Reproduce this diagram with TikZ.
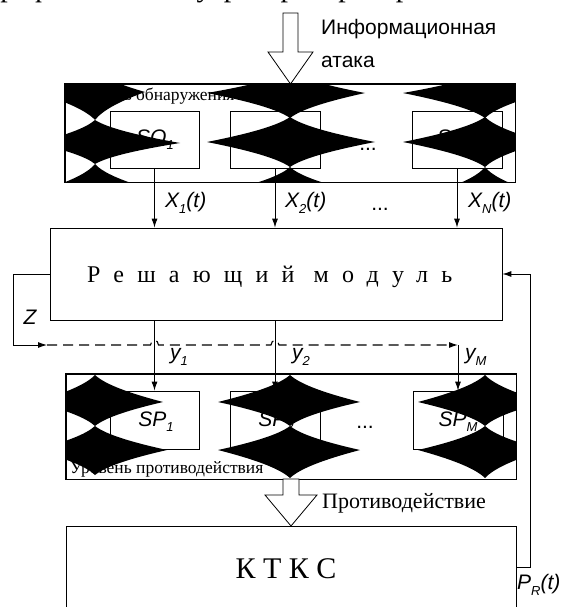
\documentclass[tikz,border=0pt]{standalone}
\usepackage{fontspec}
\setmainfont{Liberation Serif}
\setsansfont{Liberation Sans}
\usetikzlibrary{arrows.meta}

% black four-pointed blob: cx cy aL aR bT bB
\newcommand\bstar[6]{%
  \fill (#1-#3,#2) .. controls (#1-0.5*#3,#2-0.33*#5) and (#1-0.15*#3,#2-0.65*#5) .. (#1,#2-#5)
  .. controls (#1+0.15*#4,#2-0.65*#5) and (#1+0.5*#4,#2-0.33*#5) .. (#1+#4,#2)
  .. controls (#1+0.5*#4,#2+0.33*#6) and (#1+0.15*#4,#2+0.65*#6) .. (#1,#2+#6)
  .. controls (#1-0.15*#3,#2+0.65*#6) and (#1-0.5*#3,#2+0.33*#6) .. (#1-#3,#2) -- cycle;}
\newcommand\sbs[1]{\raisebox{-0.25em}{\fontsize{13}{13}\selectfont #1}}

\tikzset{
  box/.style={draw, line width=0.8pt, rectangle, inner sep=0pt, fill=white},
  arr/.style={-{Latex[length=9pt,width=6pt]}, line width=0.9pt},
  lab/.style={font=\sffamily\itshape\fontsize{21}{21}\selectfont, inner sep=0pt},
  dotsl/.style={font=\sffamily\fontsize{21}{21}\selectfont, inner sep=0pt},
  ser/.style={font=\fontsize{17.5}{17.5}\selectfont, inner sep=0pt},
  hollow/.style={draw, line width=0.8pt, fill=white},
}

\begin{document}
\begin{tikzpicture}[x=1pt,y=-1pt]
\useasboundingbox (0,0) rectangle (572,607);
\clip (0,0) rectangle (572,607);

% cut-off line of text at the top
\node[anchor=base west, inner sep=0pt, font=\fontsize{30}{30}\selectfont] (cut) at (-12,-3) {графии\quad сети\quad угроз\ \ распространения};

% top hollow arrow
\draw[hollow] (283,13) -- (298,13) -- (298,52) -- (313,52) -- (290.5,84) -- (268,52) -- (283,52) -- cycle;
\node[anchor=base west, inner sep=0pt, font=\sffamily\fontsize{21}{21}\selectfont] (ia1) at (321,35) {Информационная};
\node[anchor=base west, inner sep=0pt, font=\sffamily\fontsize{21}{21}\selectfont] (ia2) at (321,68) {атака};

% detection level
\node[box, minimum width=450pt, minimum height=98pt] (obn) at (290,133) {};
\node[ser, anchor=base west] (obnt) at (70,101) {Уровень обнаружения};
\node[box, minimum width=89pt, minimum height=57pt] (so1) at (154.5,139.5) {};
\node[box, minimum width=90pt, minimum height=57pt] (so2) at (275,139.5) {};
\node[box, minimum width=90pt, minimum height=57pt] (son) at (457,139.5) {};
\node[lab] (lso1) at (155,140) {SO\sbs{1}};
\node[lab] (lso2) at (275,140) {SO\sbs{2}};
\node[lab] (lson) at (457,140) {SO\sbs{N}};
\node[dotsl, anchor=base] (dots1) at (368,150) {...};
\begin{scope}
\clip (obn.north west) rectangle (obn.south east);
\bstar{95}{92}{60}{50}{22}{28}
\bstar{95}{143}{60}{85}{23}{21}
\bstar{95}{186}{40}{45}{22}{20}
\bstar{290}{93}{83}{75}{22}{25}
\bstar{290}{142}{83}{85}{25}{25}
\bstar{290}{189}{55}{55}{22}{20}
\bstar{485}{93}{82}{60}{22}{25}
\bstar{485}{142}{82}{60}{25}{25}
\bstar{485}{189}{40}{40}{22}{20}
\end{scope}
\draw[line width=0.8pt] (obn.north west) rectangle (obn.south east);

% decision module
\node[box, minimum width=452pt, minimum height=92pt] (mod) at (276,274) {};
\node[anchor=base west, inner sep=0pt, font=\fontsize{24}{24}\selectfont\addfontfeature{LetterSpace=55}] (modt) at (87,282) {Решающий модуль};

\draw[arr] (so1.south) -- (so1.south |- mod.north);
\draw[arr] (so2.south) -- (so2.south |- mod.north);
\draw[arr] (son.south) -- (son.south |- mod.north);
\node[lab, anchor=west] (x1) at (165,203) {X\sbs{1}(t)};
\node[lab, anchor=west] (x2) at (285,203) {X\sbs{2}(t)};
\node[dotsl, anchor=base] (dots2) at (380,210) {...};
\node[lab, anchor=west] (xn) at (468,203) {X\sbs{N}(t)};

% counteraction level
\node[box, minimum width=450pt, minimum height=105pt] (prot) at (291,426.5) {};
\node[ser, anchor=base west] (prott) at (70,473) {Уровень противодействия};
\node[box, minimum width=89pt, minimum height=58pt] (sp1) at (154.5,420) {};
\node[box, minimum width=90pt, minimum height=58pt] (sp2) at (275,420) {};
\node[box, minimum width=90pt, minimum height=58pt] (spm) at (458,420) {};
\node[lab] (lsp1) at (156,422) {SP\sbs{1}};
\node[lab] (lsp2) at (276,422) {SP\sbs{2}};
\node[lab] (lspm) at (458,422) {SP\sbs{M}};
\node[dotsl, anchor=base] (dots3) at (365,428) {...};
\begin{scope}
\clip (prot.north west) rectangle (prot.south east);
\bstar{95}{402}{60}{68}{27}{24}
\bstar{95}{450}{60}{72}{24}{25}
\bstar{290}{402}{72}{70}{27}{24}
\bstar{290}{450}{72}{70}{24}{28}
\bstar{485}{402}{67}{60}{27}{24}
\bstar{485}{450}{67}{60}{24}{28}
\end{scope}
\draw[line width=0.8pt] (prot.north west) rectangle (prot.south east);

% Z feedback and y outputs
\coordinate (zl) at (13,274);
\coordinate (zb) at (13,345);
\coordinate (za) at (47,345);
\coordinate (ym) at (458,345);
\draw[arr] (mod.west) -- (zl) -- (zb) -- (za);
\node[lab] (zlab) at (30,317) {Z};
\draw[arr, line width=1.1pt, dash pattern=on 10pt off 6pt] (za) -- ([xshift=-4pt]sp1.north |- za) .. controls +(0,-6) and +(0,-6) .. ([xshift=4pt]sp1.north |- za)
  -- ([xshift=-4pt]sp2.north |- za) .. controls +(0,-6) and +(0,-6) .. ([xshift=4pt]sp2.north |- za) -- (ym);
\draw[arr] (sp1.north |- mod.south) -- (sp1.north);
\draw[arr] (sp2.north |- mod.south) -- (sp2.north);
\draw[arr] (ym) -- (spm.north);
\node[lab, anchor=west] (y1) at (170,357) {y\sbs{1}};
\node[lab, anchor=west] (y2) at (292,357) {y\sbs{2}};
\node[lab, anchor=west] (yM) at (465,357) {y\sbs{M}};

% counteraction arrow and KTKS
\draw[hollow] (283,479) -- (299,479) -- (299,495) -- (317,495) -- (291,526) -- (265,495) -- (283,495) -- cycle;
\node[anchor=base west, inner sep=0pt, font=\fontsize{22}{22}\selectfont] (prota) at (322,508) {Противодействие};
\node[box, minimum width=450pt, minimum height=120pt] (ktks) at (291,586) {};
\node[anchor=base, inner sep=0pt, font=\fontsize{30}{30}\selectfont] (ktkst) at (286,578) {К Т К С};

% P_R feedback
\coordinate (pr1) at (530,567);
\coordinate (pr2) at (530,274);
\draw[arr] (ktks.east |- pr1) -- (pr1) -- (pr2) -- (mod.east);
\node[lab, anchor=west] (prl) at (517,585) {P\sbs{R}(t)};
\end{tikzpicture}
\end{document}
